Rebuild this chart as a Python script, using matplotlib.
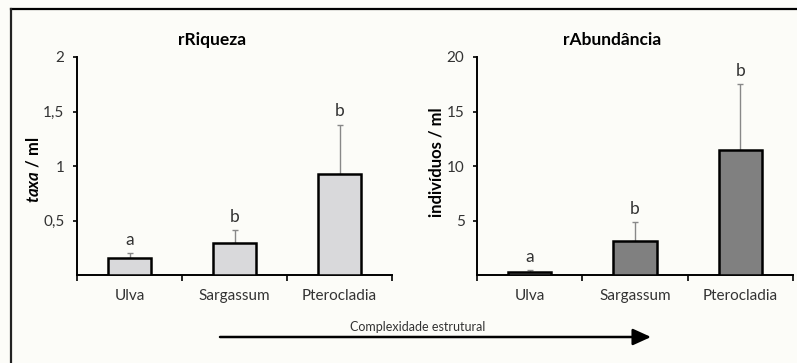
import matplotlib
matplotlib.use("Agg")
import matplotlib.pyplot as plt
from matplotlib.lines import Line2D
from matplotlib.patches import FancyArrowPatch

plt.rcParams['font.family'] = ['Lato', 'DejaVu Sans']
plt.rcParams['mathtext.fontset'] = 'custom'
plt.rcParams['mathtext.bfit'] = 'Lato:italic:bold'
plt.rcParams['mathtext.it'] = 'Lato:italic'
plt.rcParams['mathtext.bf'] = 'Lato:bold'
plt.rcParams['mathtext.rm'] = 'Lato'

categories = ["Ulva", "Sargassum", "Pterocladia"]
riqueza = [0.16, 0.29, 0.93]
riqueza_err = [0.04, 0.12, 0.45]
riqueza_letters = ["a", "b", "b"]
abund = [0.3, 3.15, 11.5]
abund_err = [0.15, 1.7, 6.0]
abund_letters = ["a", "b", "b"]
riq_ticks = [0.5, 1, 1.5, 2]
riq_ticklabels = ["0,5", "1", "1,5", "2"]
ab_ticks = [5, 10, 15, 20]
ab_ticklabels = ["5", "10", "15", "20"]

W, H = 797, 363
bg = '#fcfcf8'
txt = '#333333'
fig = plt.figure(figsize=(W/100, H/100), dpi=100, facecolor=bg)

def make_axes(x0, x1, y_top, y_bot):
    return fig.add_axes([x0/W, 1-y_bot/H, (x1-x0)/W, (y_bot-y_top)/H])

ax1 = make_axes(77, 392, 57, 275)
ax2 = make_axes(477, 793, 57, 275)

def draw(ax, vals, errs, letters, color, ymax, ticks, ticklabels):
    ax.set_facecolor(bg)
    x = list(range(len(categories)))
    ax.bar(x, vals, width=0.41, color=color, edgecolor='black', linewidth=1.8, zorder=3)
    ax.errorbar(x, vals, yerr=[[0]*len(vals), errs], fmt='none', ecolor='#888888',
                elinewidth=1.0, capsize=2, capthick=1.0, zorder=2)
    for xi, v, e, l in zip(x, vals, errs, letters):
        ax.annotate(l, (xi, v+e), xytext=(0, 4), textcoords='offset points',
                    ha='center', va='bottom', fontsize=12.5, color=txt)
    ax.set_xlim(-0.5, 2.5)
    ax.set_ylim(0, ymax)
    for s in ['top', 'right']:
        ax.spines[s].set_visible(False)
    for s in ['left', 'bottom']:
        ax.spines[s].set_linewidth(1.4)
    ax.set_yticks(ticks)
    ax.set_yticklabels(ticklabels, fontsize=11, color=txt)
    ax.set_xticks(x)
    ax.set_xticklabels(categories, fontsize=11, color=txt)
    ax.tick_params(axis='x', length=0, pad=10)
    ax.set_xticks([-0.5, 0.5, 1.5, 2.5], minor=True)
    ax.tick_params(axis='x', which='minor', length=4, width=1.2, direction='out')
    ax.tick_params(axis='y', length=3, width=1.2, pad=6)

draw(ax1, riqueza, riqueza_err, riqueza_letters, '#d9d9db', 2, riq_ticks, riq_ticklabels)
draw(ax2, abund, abund_err, abund_letters, '#808080', 20, ab_ticks, ab_ticklabels)

# titles
fig.text(212/W, 1-40/H, 'rRiqueza', ha='center', va='center', fontsize=12.5, fontweight='bold')
fig.text(612/W, 1-40/H, 'rAbundância', ha='center', va='center', fontsize=12.5, fontweight='bold')
# y labels
fig.text(33/W, 1-170/H, r'$\mathbfit{taxa}$ / ml', ha='center', va='center', rotation=90,
         fontsize=12, fontweight='bold')
fig.text(437/W, 1-162/H, 'indivíduos / ml', ha='center', va='center', rotation=90,
         fontsize=12, fontweight='bold')

# frame border (top and left visible)
fig.add_artist(Line2D([10.5/W, 1.0], [1-8.5/H, 1-8.5/H], color='black', lw=1.6,
                      transform=fig.transFigure))
fig.add_artist(Line2D([10.5/W, 10.5/W], [0.0, 1-8.5/H], color='#222222', lw=1.6,
                      transform=fig.transFigure))

# arrow
ya = 1-337/H
fig.add_artist(FancyArrowPatch((220/W, ya), (651/W, ya),
               transform=fig.transFigure, arrowstyle='-|>,head_length=11,head_width=5',
               color='black', lw=1.8, mutation_scale=1, shrinkA=0, shrinkB=0))
fig.text(418/W, 1-327/H, 'Complexidade estrutural', ha='center', va='center',
         fontsize=9, color=txt)

fig.savefig('out.png', dpi=100, facecolor=bg)
